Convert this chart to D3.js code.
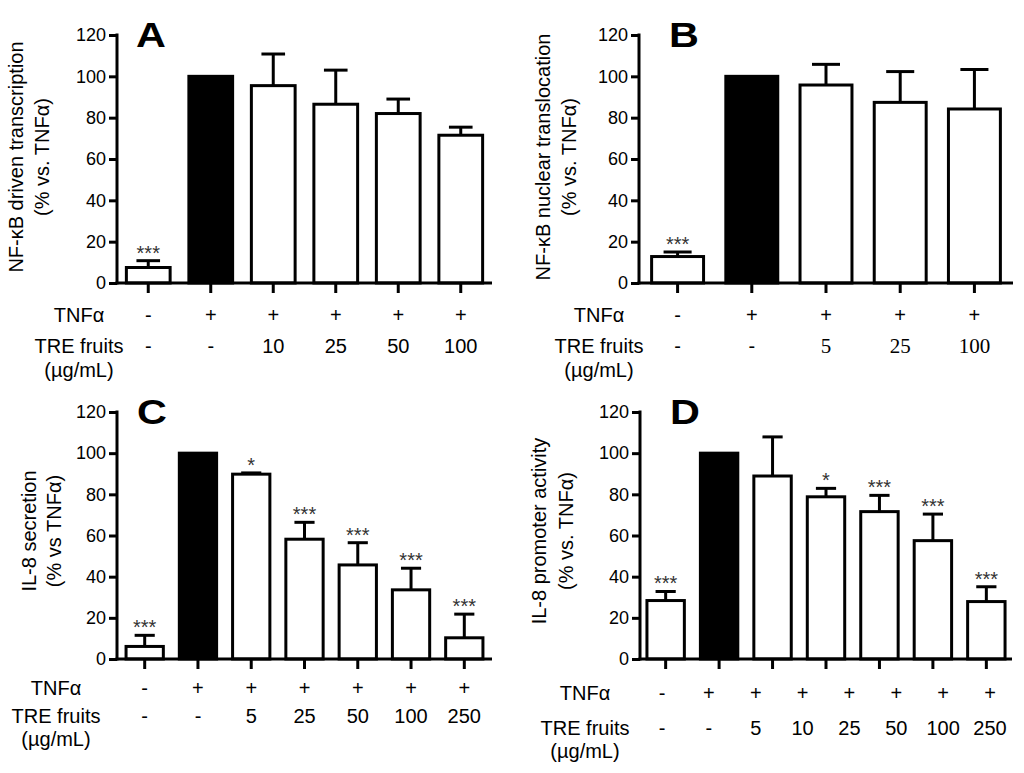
<!DOCTYPE html>
<html>
<head>
<meta charset="utf-8">
<script src="https://cdn.jsdelivr.net/npm/d3@7"></script>
<style>
  body { margin: 0; background: #fff; }
  text { font-family: "Liberation Sans", Arial, sans-serif; }
</style>
</head>
<body>
<svg id="fig" width="1024" height="773"></svg>
<script>
// ---- data (% vs TNFa) ----
const tnfA  = ["-", "+", "+", "+", "+", "+"];
const treA  = ["-", "-", "10", "25", "50", "100"];
const meanA = [7.5, 100, 95.5, 86.5, 82, 71.5];
const errA  = [10.8, null, 110.8, 103, 89, 75.4];
const starA = ["***", "", "", "", "", ""];

const tnfB  = ["-", "+", "+", "+", "+"];
const treB  = ["-", "-", "5", "25", "100"];
const meanB = [12.8, 100, 95.8, 87.4, 84.2];
const errB  = [15, null, 105.8, 102.3, 103.3];
const starB = ["***", "", "", "", ""];

const tnfC  = ["-", "+", "+", "+", "+", "+", "+"];
const treC  = ["-", "-", "5", "25", "50", "100", "250"];
const meanC = [6.1, 100, 89.8, 58.2, 45.7, 33.6, 10.3];
const errC  = [11.5, null, 90.4, 66.4, 56.5, 44.1, 21.8];
const starC = ["***", "", "*", "***", "***", "***", "***"];

// D has 8 label columns but only 7 bars in the original figure
const tnfD  = ["-", "+", "+", "+", "+", "+", "+", "+"];
const treD  = ["-", "-", "5", "10", "25", "50", "100", "250"];
const meanD = [28.4, 100, 88.9, 78.8, 71.6, 57.5, 27.9];
const errD  = [32.8, null, 107.9, 82.9, 79.5, 70.4, 35.1];
const starD = ["***", "", "", "*", "***", "***", "***"];

const yTicks = [0, 20, 40, 60, 80, 100, 120];

const svg = d3.select("#fig");

function drawPanel(p) {
  const g = svg.append("g");
  const n = p.mean.length;

  const x = d3.scaleBand()
    .domain(d3.range(n))
    .range([p.left, p.right])
    .paddingInner(0.3)
    .paddingOuter(p.padOut);
  const y = d3.scaleLinear().domain([0, 120]).range([p.bottom, p.top]);
  const bw = x.bandwidth();

  // label columns (may differ from bar count)
  const nl = p.tnf.length;
  const lx = nl === n
    ? (i => x(i) + bw / 2)
    : d3.scalePoint().domain(d3.range(nl)).range([p.left, p.right]).padding(p.labPad);

  // y axis
  const yAxis = d3.axisLeft(y).tickValues(yTicks).tickSize(8).tickPadding(3);
  const ya = g.append("g").attr("transform", `translate(${p.left},0)`).call(yAxis);
  ya.select(".domain").remove();
  ya.selectAll(".tick line").attr("stroke", "#000").attr("stroke-width", 3);
  ya.selectAll(".tick text").attr("font-size", 18).attr("fill", "#000")
    .style("font-family", "Liberation Sans, Arial, sans-serif");
  g.append("line")
    .attr("x1", p.left).attr("x2", p.left)
    .attr("y1", y(120) - 1.5).attr("y2", y(0) + 1.5)
    .attr("stroke", "#000").attr("stroke-width", 3);

  // bars
  g.selectAll("rect.bar").data(p.mean).enter().append("rect")
    .attr("class", "bar")
    .attr("x", (d, i) => x(i))
    .attr("y", d => y(d))
    .attr("width", bw)
    .attr("height", d => y(0) - y(d))
    .attr("fill", (d, i) => i === 1 ? "#000" : "#fff")
    .attr("stroke", "#000")
    .attr("stroke-width", 3);

  // error bars (upper only)
  const eb = g.selectAll("g.err").data(p.err.map((e, i) => ({ e, i, m: p.mean[i] })).filter(d => d.e != null))
    .enter().append("g").attr("class", "err");
  eb.append("line")
    .attr("x1", d => x(d.i) + bw / 2).attr("x2", d => x(d.i) + bw / 2)
    .attr("y1", d => y(d.m)).attr("y2", d => y(d.e))
    .attr("stroke", "#000").attr("stroke-width", 3);
  eb.append("line")
    .attr("x1", d => x(d.i) + bw / 2 - bw * 0.27).attr("x2", d => x(d.i) + bw / 2 + bw * 0.27)
    .attr("y1", d => y(d.e)).attr("y2", d => y(d.e))
    .attr("stroke", "#000").attr("stroke-width", 3);

  // significance stars
  g.selectAll("text.star").data(p.star).enter().append("text")
    .attr("class", "star")
    .attr("x", (d, i) => x(i) + bw / 2)
    .attr("y", (d, i) => y(p.err[i] != null ? p.err[i] : p.mean[i]) - 1)
    .attr("text-anchor", "middle")
    .attr("font-size", 20)
    .attr("fill", "#333")
    .text(d => d);

  // x axis line + ticks under bars
  g.append("line")
    .attr("x1", p.left - 1.5).attr("x2", p.right)
    .attr("y1", y(0)).attr("y2", y(0))
    .attr("stroke", "#000").attr("stroke-width", 3);
  g.selectAll("line.xt").data(d3.range(n)).enter().append("line")
    .attr("class", "xt")
    .attr("x1", i => x(i) + bw / 2).attr("x2", i => x(i) + bw / 2)
    .attr("y1", y(0)).attr("y2", y(0) + 10)
    .attr("stroke", "#000").attr("stroke-width", 3);

  // treatment rows
  g.selectAll("text.tnf").data(p.tnf).enter().append("text")
    .attr("x", (d, i) => lx(i)).attr("y", y(0) + p.rows[0])
    .attr("text-anchor", "middle").attr("font-size", 20)
    .text(d => d);
  g.selectAll("text.tre").data(p.tre).enter().append("text")
    .attr("x", (d, i) => lx(i)).attr("y", y(0) + p.rows[1])
    .attr("text-anchor", "middle")
    .attr("font-size", d => (p.serif && d !== "-") ? 21 : 20)
    .style("font-family", d => (p.serif && d !== "-") ? "Liberation Serif, serif" : null)
    .text(d => d);

  const rl = p.rowLabelX;
  g.append("text").attr("x", rl).attr("y", y(0) + p.rows[0])
    .attr("text-anchor", "middle").attr("font-size", 20).text("TNFα");
  g.append("text").attr("x", rl).attr("y", y(0) + p.rows[1])
    .attr("text-anchor", "middle").attr("font-size", 20).text("TRE fruits");
  g.append("text").attr("x", rl).attr("y", y(0) + p.rows[2])
    .attr("text-anchor", "middle").attr("font-size", 20).text("(µg/mL)");

  // y title (two lines)
  p.title.forEach((t, k) => {
    g.append("text")
      .attr("transform", `translate(${p.titleX[k]},${p.titleY}) rotate(-90)`)
      .attr("text-anchor", "middle")
      .attr("font-size", 20)
      .text(t);
  });

  // panel letter (slightly wide, like the original)
  g.append("text")
    .attr("transform", `translate(${p.letterX},${p.top + 12}) scale(1.15,1)`)
    .attr("font-size", 36).attr("font-weight", "bold")
    .text(p.letter);
}

drawPanel({
  letter: "A", letterX: 136, mean: meanA, err: errA, star: starA, tnf: tnfA, tre: treA,
  left: 117, right: 492, top: 35, bottom: 283, padOut: 0.15,
  rows: [39, 70, 94], rowLabelX: 79,
  title: ["NF-κB driven transcription", "(% vs. TNFα)"], titleX: [23, 49], titleY: 157
});
drawPanel({
  letter: "B", letterX: 669, mean: meanB, err: errB, star: starB, tnf: tnfB, tre: treB, serif: true,
  left: 639, right: 1013, top: 35, bottom: 283, padOut: 0.17,
  rows: [39, 70, 94], rowLabelX: 599,
  title: ["NF-κB nuclear translocation", "(% vs. TNFα)"], titleX: [550, 576], titleY: 157
});
drawPanel({
  letter: "C", letterX: 137, mean: meanC, err: errC, star: starC, tnf: tnfC, tre: treC,
  left: 117, right: 492, top: 412, bottom: 659, padOut: 0.17,
  rows: [36, 64, 87], rowLabelX: 56,
  title: ["IL-8 secretion", "(% vs TNFα)"], titleX: [36, 61], titleY: 531
});
drawPanel({
  letter: "D", letterX: 670, mean: meanD, err: errD, star: starD, tnf: tnfD, tre: treD,
  left: 640, right: 1012, top: 412, bottom: 659, padOut: 0.13, labPad: 0.47,
  rows: [41, 76, 99], rowLabelX: 585,
  title: ["IL-8 promoter activity", "(% vs. TNFα)"], titleX: [546, 573], titleY: 531
});
</script>
</body>
</html>
